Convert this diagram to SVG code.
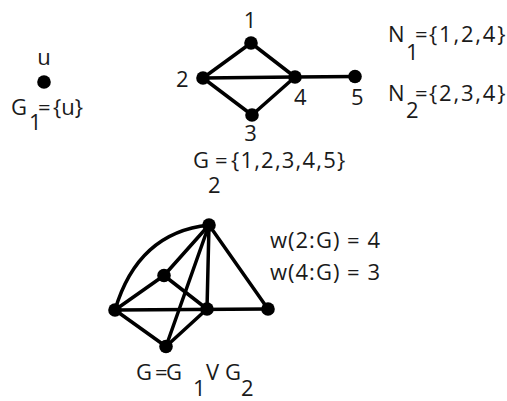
<svg xmlns="http://www.w3.org/2000/svg" width="507" height="401" viewBox="0 0 507 401">
<style>
text{font-family:"Open Sans","Liberation Sans",sans-serif;font-size:22px;fill:#1a1a1a}
.e{stroke:#000;stroke-width:3.5;fill:none;stroke-linecap:round}
.n{fill:#000}
.m{text-anchor:middle}
</style>
<rect width="507" height="401" fill="#fff"/>
<g id="g1">
<g id="u"><circle class="n" cx="44" cy="82" r="6.8"/><text class="m" x="44" y="65">u</text></g>
<text><tspan x="11" y="115">G</tspan><tspan x="29" y="130">1</tspan><tspan x="38" y="115">=</tspan><tspan x="53" y="115">{u}</tspan></text>
</g>
<g id="g2-connectors">
<line class="e" x1="203" y1="78" x2="251" y2="43"/>
<line class="e" x1="251" y1="43" x2="295" y2="77"/>
<line class="e" x1="203" y1="78" x2="295" y2="77"/>
<line class="e" x1="203" y1="78" x2="252" y2="115"/>
<line class="e" x1="252" y1="115" x2="295" y2="77"/>
<line class="e" x1="295" y1="77" x2="355" y2="76.5"/>
</g>
<g id="n1"><circle class="n" cx="251" cy="43" r="6.8"/><text class="m" x="250" y="28">1</text></g>
<g id="n2"><circle class="n" cx="203" cy="78" r="6.8"/><text x="176" y="87">2</text></g>
<g id="n3"><circle class="n" cx="252" cy="115" r="6.8"/><text class="m" x="250.5" y="141">3</text></g>
<g id="n4"><circle class="n" cx="295" cy="77" r="6.8"/><text x="294" y="105">4</text></g>
<g id="n5"><circle class="n" cx="355" cy="76.5" r="6.8"/><text x="351" y="105">5</text></g>
<g id="g2-label"><text><tspan x="193" y="168">G</tspan><tspan x="208" y="193">2</tspan><tspan x="215" y="168">=</tspan><tspan x="231" y="168" letter-spacing="1.2">{1,2,3,4,5}</tspan></text></g>
<g id="n-sets">
<text><tspan x="388" y="42">N</tspan><tspan x="406" y="60">1</tspan><tspan x="415" y="42">=</tspan><tspan x="429" y="42" letter-spacing="1.8">{1,2,4}</tspan></text>
<text><tspan x="388" y="101">N</tspan><tspan x="406" y="118">2</tspan><tspan x="415" y="101">=</tspan><tspan x="429" y="101" letter-spacing="1.8">{2,3,4}</tspan></text>
</g>
<g id="g-connectors">
<path class="e" d="M115,310 Q138,232.5 209,225"/>
<line class="e" x1="115" y1="310" x2="164" y2="275.5"/>
<line class="e" x1="164" y1="275.5" x2="209" y2="225"/>
<line class="e" x1="164" y1="275.5" x2="207" y2="309"/>
<line class="e" x1="115" y1="310" x2="268" y2="309"/>
<line class="e" x1="115" y1="310" x2="166" y2="346.5"/>
<line class="e" x1="166" y1="346.5" x2="207" y2="309"/>
<line class="e" x1="166" y1="346.5" x2="209" y2="225"/>
<line class="e" x1="209" y1="225" x2="207" y2="309"/>
<line class="e" x1="209" y1="225" x2="268" y2="309"/>
</g>
<g id="gu"><circle class="n" cx="209" cy="225" r="6.8"/></g>
<g id="g1n"><circle class="n" cx="164" cy="275.5" r="6.8"/></g>
<g id="g2n"><circle class="n" cx="115" cy="310" r="6.8"/></g>
<g id="g4n"><circle class="n" cx="207" cy="309" r="6.8"/></g>
<g id="g5n"><circle class="n" cx="268" cy="309" r="6.8"/></g>
<g id="g3n"><circle class="n" cx="166" cy="346.5" r="6.8"/></g>
<g id="w-labels">
<text x="270" y="248" letter-spacing="1">w(2:G) = 4</text>
<text x="270" y="280" letter-spacing="1">w(4:G) = 3</text>
</g>
<g id="g-label"><text><tspan x="136" y="380">G</tspan><tspan x="155" y="380">=</tspan><tspan x="166" y="380">G</tspan><tspan x="193" y="396">1</tspan><tspan x="206" y="380">V</tspan><tspan x="225" y="380">G</tspan><tspan x="241" y="396">2</tspan></text></g>
</svg>
